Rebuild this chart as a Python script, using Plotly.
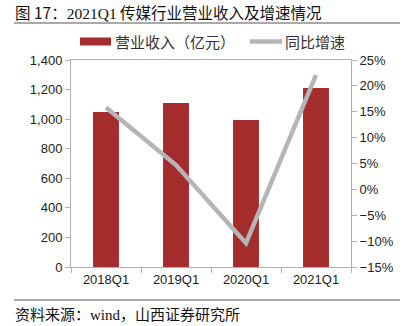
import plotly.graph_objects as go

categories = ["2018Q1", "2019Q1", "2020Q1", "2021Q1"]
revenue = [1048, 1109, 994, 1210]
growth = [15.8, 4.7, -10.4, 22.1]
series_names = ["营业收入（亿元）", "同比增速"]

L, R, T, B = 71, 55, 60, 59
W, H = 406, 326
pw, ph = W - L - R, H - T - B

def px(x):
    return (x - L) / pw

def py(y):
    return (H - B - y) / ph

cjk = "Noto Sans CJK SC"
num = "Liberation Sans"
serif = "Liberation Serif"
bar_color = "#a52c2c"
line_color = "#b5b5b5"

fig = go.Figure()
fig.add_trace(go.Bar(
    x=categories, y=revenue, name=series_names[0],
    marker=dict(color=bar_color, line=dict(width=0)),
    width=0.37, yaxis="y",
))
fig.add_trace(go.Scatter(
    x=categories, y=growth, name=series_names[1], mode="lines",
    line=dict(color=line_color, width=4.5), yaxis="y2",
))

tickfont = dict(family=num, size=13, color="#222222")
fig.update_layout(
    width=W, height=H,
    margin=dict(l=L, r=R, t=T, b=B),
    paper_bgcolor="white", plot_bgcolor="white",
    showlegend=False,
    xaxis=dict(
        type="category", tickson="boundaries", ticks="outside", ticklen=5,
        tickcolor="#b0b0b0", showline=True, linecolor="#b0b0b0", linewidth=1,
        mirror=True, showgrid=False, tickfont=tickfont,
    ),
    yaxis=dict(
        range=[0, 1400], dtick=200, tickformat=",", showgrid=False,
        ticks="outside", ticklen=5, tickcolor="#b0b0b0",
        showline=True, linecolor="#b0b0b0", linewidth=1, zeroline=False,
        tickfont=tickfont,
    ),
    yaxis2=dict(
        range=[-15, 25], dtick=5, ticksuffix="%", overlaying="y", side="right",
        showgrid=False, ticks="outside", ticklen=5, tickcolor="#b0b0b0",
        showline=True, linecolor="#b0b0b0", linewidth=1, zeroline=False,
        tickfont=tickfont,
    ),
    annotations=[
        dict(text="图 17：<span style='font-family:Liberation Serif'>2021Q1</span> 传媒行业营业收入及增速情况",
             xref="paper", yref="paper",
             x=px(13), y=py(12), xanchor="left", yanchor="middle", showarrow=False,
             font=dict(family=cjk, size=15.5, color="#111111")),
        dict(text="资料来源：<span style='font-family:Liberation Serif'>wind</span>，山西证券研究所",
             xref="paper", yref="paper",
             x=px(13), y=py(313), xanchor="left", yanchor="middle", showarrow=False,
             font=dict(family=cjk, size=15, color="#111111")),
        dict(text=series_names[0], xref="paper", yref="paper",
             x=px(113), y=py(41), xanchor="left", yanchor="middle", showarrow=False,
             font=dict(family=cjk, size=15, color="#333333")),
        dict(text=series_names[1], xref="paper", yref="paper",
             x=px(283), y=py(41), xanchor="left", yanchor="middle", showarrow=False,
             font=dict(family=cjk, size=15, color="#333333")),
    ],
    shapes=[
        dict(type="line", xref="paper", yref="paper", x0=px(14), x1=px(400),
             y0=py(23), y1=py(23), line=dict(color="#555555", width=1.2)),
        dict(type="line", xref="paper", yref="paper", x0=px(14), x1=px(400),
             y0=py(300), y1=py(300), line=dict(color="#555555", width=1.2)),
        dict(type="rect", xref="paper", yref="paper", x0=px(80), x1=px(111),
             y0=py(37.5), y1=py(45.5), fillcolor=bar_color, line=dict(width=0)),
        dict(type="line", xref="paper", yref="paper", x0=px(250), x1=px(282),
             y0=py(41.5), y1=py(41.5), line=dict(color=line_color, width=4.5)),
    ],
)

fig.write_html("out.html")
